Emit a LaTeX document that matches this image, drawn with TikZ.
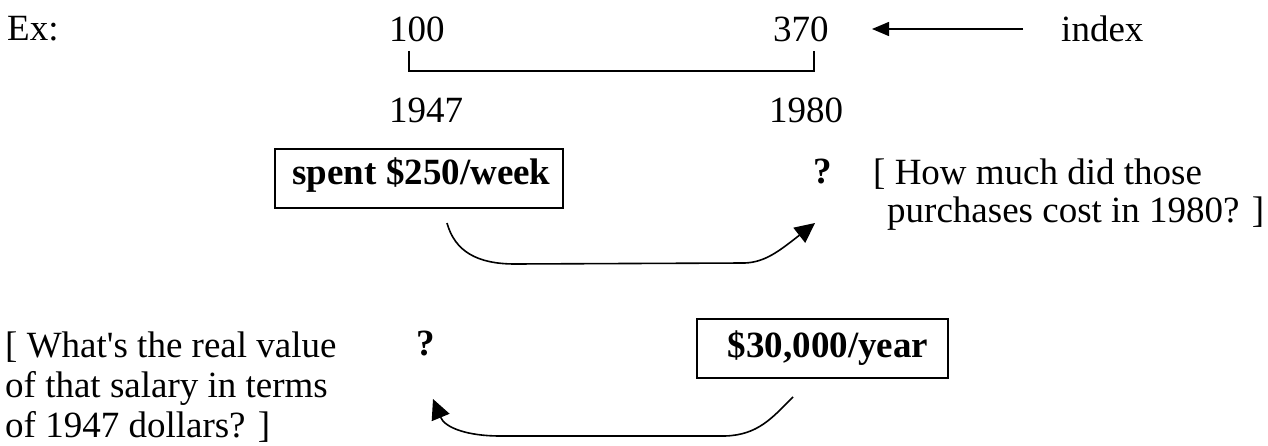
\documentclass[tikz,border=0pt]{standalone}
\usepackage{fontspec}
\setmainfont{Liberation Serif}
\usetikzlibrary{arrows.meta}
\begin{document}
\begin{tikzpicture}[x=1pt,y=-1pt,
  tx/.style={anchor=base west, inner sep=0pt, font=\fontsize{37}{44}\selectfont},
  bq/.style={anchor=base west, inner sep=0pt, font=\bfseries\fontsize{37}{44}\selectfont},
  bx/.style={draw, line width=1.5pt, inner sep=0pt, font=\bfseries\fontsize{37}{44}\selectfont},
  arr/.style={line width=1.6pt, -{Triangle[length=20pt,width=19pt]}},
  iarr/.style={line width=1.4pt, -{Triangle[length=17pt,width=14pt]}},
  brk/.style={line width=1.3pt}]
\useasboundingbox (0,0) rectangle (1268,446);
% top row
\node[tx] (ex) at (7,41) {Ex:};
\node[tx] (i100) at (389,42) {100};
\node[tx] (i370) at (773,42) {370};
\node[tx] (idx) at (1061,42) {index};
\coordinate (itail) at (1023,29);
\coordinate (itip) at (872,29);
\draw[iarr] (itail) -- (itip);
% bracket
\coordinate (bl) at (409,51);
\coordinate (br) at (814,51);
\draw[brk] (bl) -- ++(0,20) -| (br);
% years
\node[tx] (y47) at (389,123) {1947};
\node[tx] (y80) at (769,123) {1980};
% first box
\node[bx, minimum width=288pt, minimum height=59pt, text height=22pt, text depth=9pt] (spent) at (419,178.5) {\hspace*{5pt}spent \$250/week};
\node[bq] (q1) at (813,184) {?};
\node[tx] (how1) at (873,185) {[ How much did those};
\node[tx] (how2) at (887,223) {purchases cost in 1980? ]};
\coordinate (c1s) at (447,223);
\coordinate (c1e) at (815,223);
\draw[arr] (c1s) .. controls (455,252) and (478,264) .. (515,264)
  -- (745,263) .. controls (765,262) and (778,252) .. (c1e);
% second box
\node[bx, minimum width=251pt, minimum height=59pt, text height=24pt, text depth=7pt] (sal) at (822.5,348.5) {\hspace*{11pt}\$30,000/year};
\node[bq] (q2) at (416,355) {?};
\node[tx] (wh1) at (5,357) {[ What\textquotesingle s the real value};
\node[tx] (wh2) at (5,397.5) {of that salary in terms};
\node[tx] (wh3) at (5,437) {of 1947 dollars? ]};
\coordinate (c2s) at (793,397);
\coordinate (c2e) at (433,399);
\draw[arr] (c2s) .. controls (772,418) and (758,435) .. (725,436)
  -- (500,436) .. controls (468,436) and (445,428) .. (c2e);
\end{tikzpicture}
\end{document}
